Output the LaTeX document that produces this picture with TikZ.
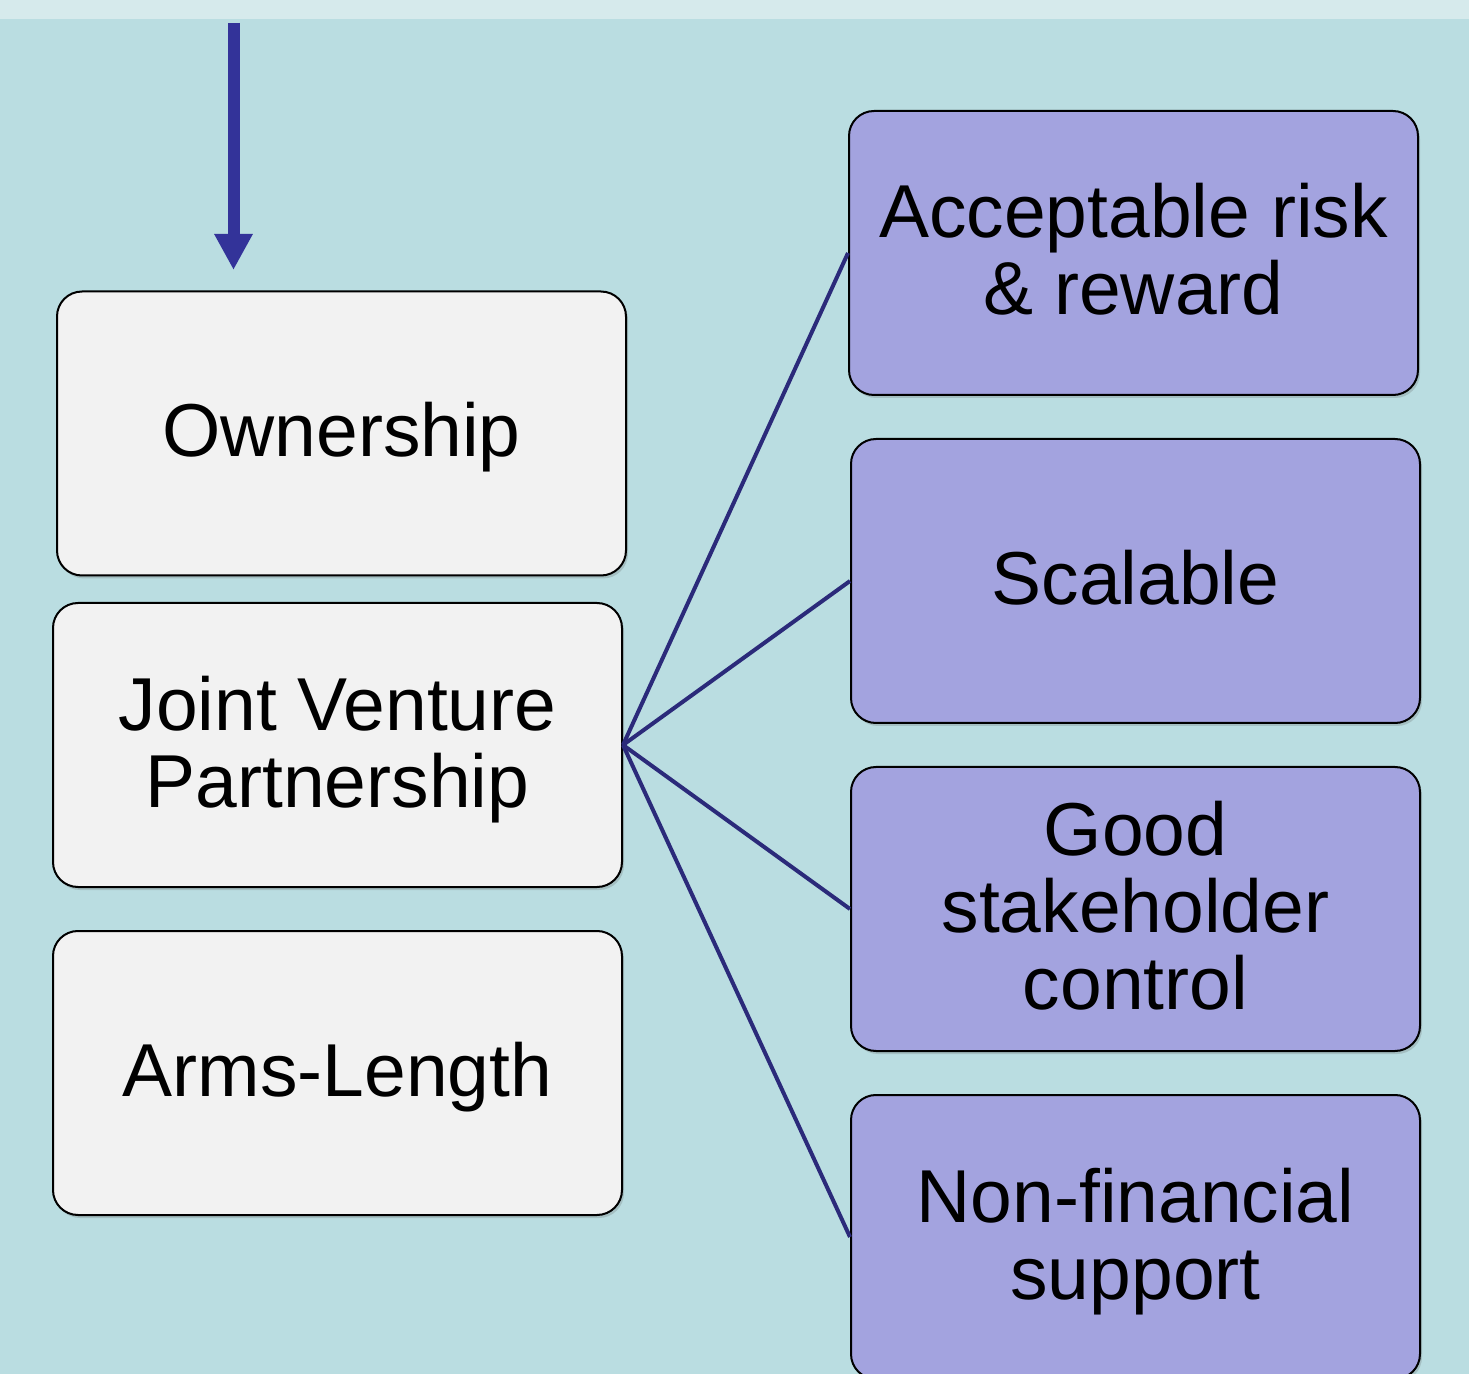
\documentclass[tikz,border=0pt]{standalone}
\usepackage{fontspec}
\setmainfont{Liberation Sans}
\usetikzlibrary{arrows.meta,shadows}
\definecolor{bgc}{HTML}{BADDE1}
\definecolor{bandc}{HTML}{D6EAEC}
\definecolor{lightbox}{HTML}{F2F2F2}
\definecolor{purplebox}{HTML}{A3A3DF}
\definecolor{linec}{HTML}{2B2A7A}
\definecolor{arrowc}{HTML}{333399}
\newcommand\sst{\rule[-8.5pt]{0pt}{40.5pt}}
\newcommand\boxfont{\fontsize{37.5}{38.5}\selectfont\setlength{\lineskiplimit}{-100pt}\setlength{\lineskip}{0pt}}
\begin{document}
\begin{tikzpicture}[x=0.5pt,y=-0.5pt,
  boxbase/.style={draw=black, line width=1pt, rounded corners=12.5pt,
    minimum width=284.5pt, minimum height=142pt, align=center,
    inner sep=0pt,
    font=\boxfont,
    drop shadow={shadow xshift=1pt, shadow yshift=-1.5pt, opacity=0.25, fill=black!60}},
  leftbox/.style={boxbase, fill=lightbox},
  rightbox/.style={boxbase, fill=purplebox},
  conn/.style={draw=linec, line width=2pt}]
\useasboundingbox (0,0) rectangle (1469,1374);
\fill[bgc] (0,0) rectangle (1469,1374);
\fill[bandc] (0,0) rectangle (1469,19);
% left boxes
\node[leftbox] (own) at (341.5,433.5) {\sst Ownership};
\node[leftbox] (jv) at (337.5,745) {\sst Joint Venture\\\sst Partnership};
\node[leftbox] (arms) at (337.5,1073) {\sst Arms-Length};
% right boxes
\node[rightbox] (acc) at (1133.5,253) {\sst Acceptable risk\\\sst\& reward};
\node[rightbox] (scal) at (1135.5,581) {\sst Scalable};
\node[rightbox] (good) at (1135.5,909) {\sst Good\\\sst stakeholder\\\sst control};
\node[rightbox] (nonf) at (1135.5,1237) {\sst Non-financial\\\sst support};
% connectors
\draw[conn] (jv.east) -- (acc.west);
\draw[conn] (jv.east) -- (scal.west);
\draw[conn] (jv.east) -- (good.west);
\draw[conn] (jv.east) -- (nonf.west);
% arrow
\coordinate (astart) at (233.5,23);
\coordinate (aend) at (233.5,270);
\draw[arrowc, line width=6pt, -{Triangle[width=18pt,length=18pt]}] (astart) -- (aend);
\end{tikzpicture}
\end{document}
